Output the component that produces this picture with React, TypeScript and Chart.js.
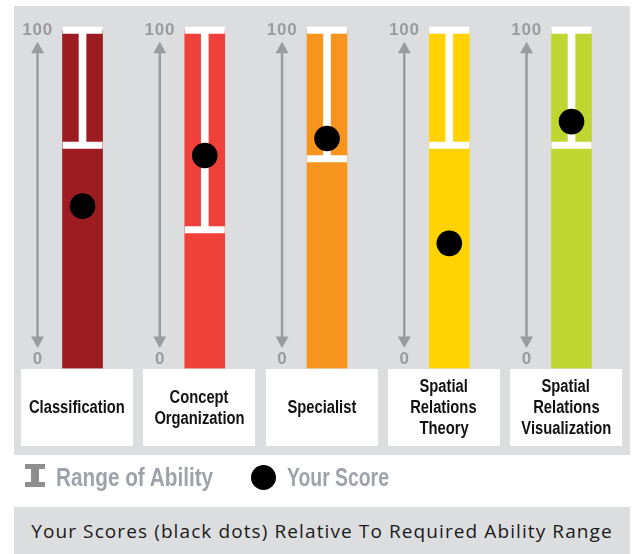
import React, { useEffect, useRef } from "react";
import { Chart, registerables } from "chart.js";

Chart.register(...registerables);

const categories = ["Classification", "Concept Organization", "Specialist", "Spatial Relations Theory", "Spatial Relations Visualization"];
const categoryLines = [["Classification"], ["Concept", "Organization"], ["Specialist"], ["Spatial", "Relations", "Theory"], ["Spatial", "Relations", "Visualization"]];
const rangeLow = [66, 41, 62, 66, 66];
const rangeHigh = [100, 100, 100, 100, 100];
const scores = [48, 63, 68, 37, 73];
const barColors = ["#9D1C22", "#F0403A", "#F7941E", "#FFD200", "#BED62F"];
const axisMin = 0;
const axisMax = 100;
const tickLabels = ["100", "0"];
const legendRange = "Range of Ability";
const legendScore = "Your Score";
const caption = "Your Scores (black dots) Relative To Required Ability Range";

const ARROW = "#9b9b9b";
const PANEL_GRAY = "#dcdddf";
const COL_W = 122.25;
const PLOT_LEFT = 21.4;
const ARROW_DX = 45;

const arrowPlugin = {
  id: "arrows",
  beforeDatasetsDraw(chart: any) {
    const { ctx, scales } = chart;
    const x = scales.x;
    const y = scales.y;
    ctx.save();
    ctx.fillStyle = ARROW;
    ctx.strokeStyle = ARROW;
    ctx.lineWidth = 2.5;
    const topTip = y.getPixelForValue(axisMax) + 11.4;
    const botTip = y.getPixelForValue(axisMin) - 20.5;
    const headH = 11.5;
    const headW = 6.5;
    for (let i = 0; i < categories.length; i++) {
      const cx = x.getPixelForValue(i) - ARROW_DX;
      ctx.beginPath();
      ctx.moveTo(cx, topTip + headH - 1);
      ctx.lineTo(cx, botTip - headH + 1);
      ctx.stroke();
      ctx.beginPath();
      ctx.moveTo(cx, topTip);
      ctx.lineTo(cx - headW, topTip + headH);
      ctx.lineTo(cx + headW, topTip + headH);
      ctx.closePath();
      ctx.fill();
      ctx.beginPath();
      ctx.moveTo(cx, botTip);
      ctx.lineTo(cx - headW, botTip - headH);
      ctx.lineTo(cx + headW, botTip - headH);
      ctx.closePath();
      ctx.fill();
    }
    ctx.restore();
  },
};

function ChartCanvas() {
  const ref = useRef<HTMLCanvasElement | null>(null);
  useEffect(() => {
    if (!ref.current) return;
    const chart = new Chart(ref.current, {
      type: "bar",
      data: {
        labels: categories,
        datasets: [
          {
            type: "bar",
            data: rangeHigh.map(() => [axisMin, axisMax]),
            backgroundColor: barColors,
            barThickness: 40,
            grouped: false,
            order: 4,
          } as any,
          {
            type: "bar",
            data: rangeLow.map((lo, i) => [lo, rangeHigh[i]]),
            backgroundColor: "#ffffff",
            barThickness: 7,
            grouped: false,
            order: 3,
          } as any,
          {
            type: "line",
            data: rangeHigh,
            showLine: false,
            clip: false,
            pointStyle: "line",
            pointRadius: 20,
            pointBorderWidth: 7,
            pointBorderColor: "#ffffff",
            pointBackgroundColor: "#ffffff",
            order: 2,
          } as any,
          {
            type: "line",
            data: rangeLow,
            showLine: false,
            clip: false,
            pointStyle: "line",
            pointRadius: 20,
            pointBorderWidth: 7,
            pointBorderColor: "#ffffff",
            pointBackgroundColor: "#ffffff",
            order: 2,
          } as any,
          {
            type: "line",
            data: scores,
            showLine: false,
            clip: false,
            pointStyle: "circle",
            pointRadius: 12.8,
            pointBorderWidth: 0,
            pointBackgroundColor: "#000000",
            order: 1,
          } as any,
        ],
      },
      options: {
        animation: false,
        responsive: false,
        events: [],
        layout: { autoPadding: false, padding: { left: PLOT_LEFT, right: 634 - PLOT_LEFT - COL_W * 5, top: 30.3, bottom: 554 - 368.5 } },
        plugins: { legend: { display: false }, tooltip: { enabled: false } },
        scales: {
          x: { display: false, offset: true, grid: { display: false } },
          y: { display: false, min: axisMin, max: axisMax, grid: { display: false } },
        },
      },
      plugins: [arrowPlugin],
    } as any);
    return () => chart.destroy();
  }, []);
  return <canvas ref={ref} width={634} height={554} style={{ position: "absolute", left: 0, top: 0, display: "block" }} />;
}

const sans = '"Liberation Sans", Arial, sans-serif';

export default function App() {
  return (
    <div style={{ position: "fixed", left: 0, top: 0, width: 634, height: 554, background: "#ffffff", overflow: "hidden", fontFamily: sans }}>
      <div style={{ position: "absolute", left: 14, top: 6, width: 616, height: 449, background: PANEL_GRAY }} />
      <ChartCanvas />
      {categories.map((c, i) => {
        const ax = PLOT_LEFT + COL_W * (i + 0.5) - ARROW_DX;
        return (
          <React.Fragment key={c}>
            <div style={{ position: "absolute", left: ax - 25, width: 50, top: 20.5, textAlign: "center", fontWeight: 700, fontSize: 17, lineHeight: "17px", letterSpacing: 0.8, color: ARROW }}>{tickLabels[0]}</div>
            <div style={{ position: "absolute", left: ax - 25, width: 50, top: 349.5, textAlign: "center", fontWeight: 700, fontSize: 17, lineHeight: "17px", color: ARROW }}>{tickLabels[1]}</div>
            <div style={{ position: "absolute", left: 21 + COL_W * i, top: 369, width: 112, height: 77, background: "#ffffff", display: "flex", flexDirection: "column", alignItems: "center", justifyContent: "center", fontWeight: 700, fontSize: 17.5, lineHeight: "21px", color: "#111111", textAlign: "center" }}>
              {categoryLines[i].map((l) => (
                <div key={l} style={{ whiteSpace: "nowrap", transform: "scaleX(0.843)", transformOrigin: "center" }}>{l}</div>
              ))}
            </div>
          </React.Fragment>
        );
      })}
      <div style={{ position: "absolute", left: 25, top: 464, width: 20, height: 23 }}>
        <div style={{ position: "absolute", left: 0, top: 0, width: 20, height: 5, background: "#8e8e8e" }} />
        <div style={{ position: "absolute", left: 6, top: 0, width: 8, height: 23, background: "#8e8e8e" }} />
        <div style={{ position: "absolute", left: 0, top: 18, width: 20, height: 5, background: "#8e8e8e" }} />
      </div>
      <div style={{ position: "absolute", left: 56, top: 463, height: 28, lineHeight: "28px", fontWeight: 700, fontSize: 25, color: "#9ea3aa", whiteSpace: "nowrap", transform: "scaleX(0.83)", transformOrigin: "left center" }}>{legendRange}</div>
      <div style={{ position: "absolute", left: 250.5, top: 464.5, width: 25, height: 25, borderRadius: "50%", background: "#000000" }} />
      <div style={{ position: "absolute", left: 287, top: 463, height: 28, lineHeight: "28px", fontWeight: 700, fontSize: 25, color: "#9ea3aa", whiteSpace: "nowrap", transform: "scaleX(0.775)", transformOrigin: "left center" }}>{legendScore}</div>
      <div style={{ position: "absolute", left: 14, top: 507, width: 616, height: 47, background: PANEL_GRAY, display: "flex", alignItems: "center", justifyContent: "center", fontFamily: '"Open Sans", sans-serif', fontSize: 19, letterSpacing: 1.1, color: "#1a1a1a", whiteSpace: "nowrap" }}>{caption}</div>
    </div>
  );
}
